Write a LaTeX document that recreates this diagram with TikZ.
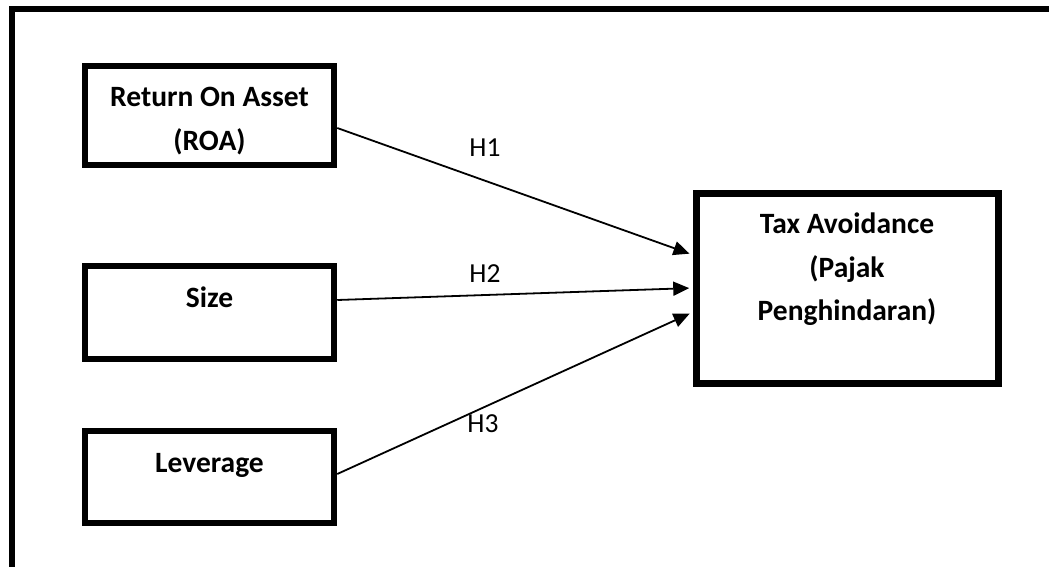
\documentclass[tikz,border=0pt]{standalone}
\usepackage{fontspec}
\setmainfont{Carlito}
\usetikzlibrary{arrows.meta}
\begin{document}
\begin{tikzpicture}[x=1pt,y=-1pt,
  box/.style={draw, line width=6.5pt, inner sep=0pt, minimum width=249pt},
  boxtxt/.style={anchor=base, inner sep=0pt, font=\fontsize{29.5}{35}\selectfont\bfseries},
  hyp/.style={anchor=base, inner sep=0pt, font=\fontsize{27.5}{32}\selectfont},
  conn/.style={line width=1.8pt, -{Triangle[length=16pt,width=14pt]}, shorten >=4pt}]
\useasboundingbox (0,0) rectangle (1049,567);
% frame
\draw[line width=6pt] (1049,9) -- (12,9) -- (12,567);
% boxes
\node[box, minimum height=99pt] (roa) at (209.5,115.5) {};
\node[box, minimum height=93pt] (size) at (209.5,312.5) {};
\node[box, minimum height=92pt] (lev) at (209.5,477) {};
\node[box, minimum width=302pt, minimum height=190pt] (tax) at (847.5,288.5) {};
% texts
\node[boxtxt] (roa1) at (209.5,107) {Return On Asset};
\node[boxtxt] (roa2) at (209.5,150) {(ROA)};
\node[boxtxt] (sizet) at (209.5,307) {Size};
\node[boxtxt] (levt) at (209.5,472) {Leverage};
\node[boxtxt] (tax1) at (847,233) {Tax Avoidance};
\node[boxtxt] (tax2) at (847,277) {(Pajak};
\node[boxtxt] (tax3) at (847,320) {Penghindaran)};
% connectors
\draw[conn] ([yshift=-12.5pt]roa.east) -- ([yshift=33.5pt]tax.west);
\draw[conn] ([yshift=12.5pt]size.east) -- ([yshift=0.5pt]tax.west);
\draw[conn] ([yshift=3pt]lev.east) -- ([yshift=-23.5pt]tax.west);
% labels
\node[hyp] (h1) at (485,157) {H1};
\node[hyp] (h2) at (485,282) {H2};
\node[hyp] (h3) at (483,432) {H3};
\end{tikzpicture}
\end{document}
